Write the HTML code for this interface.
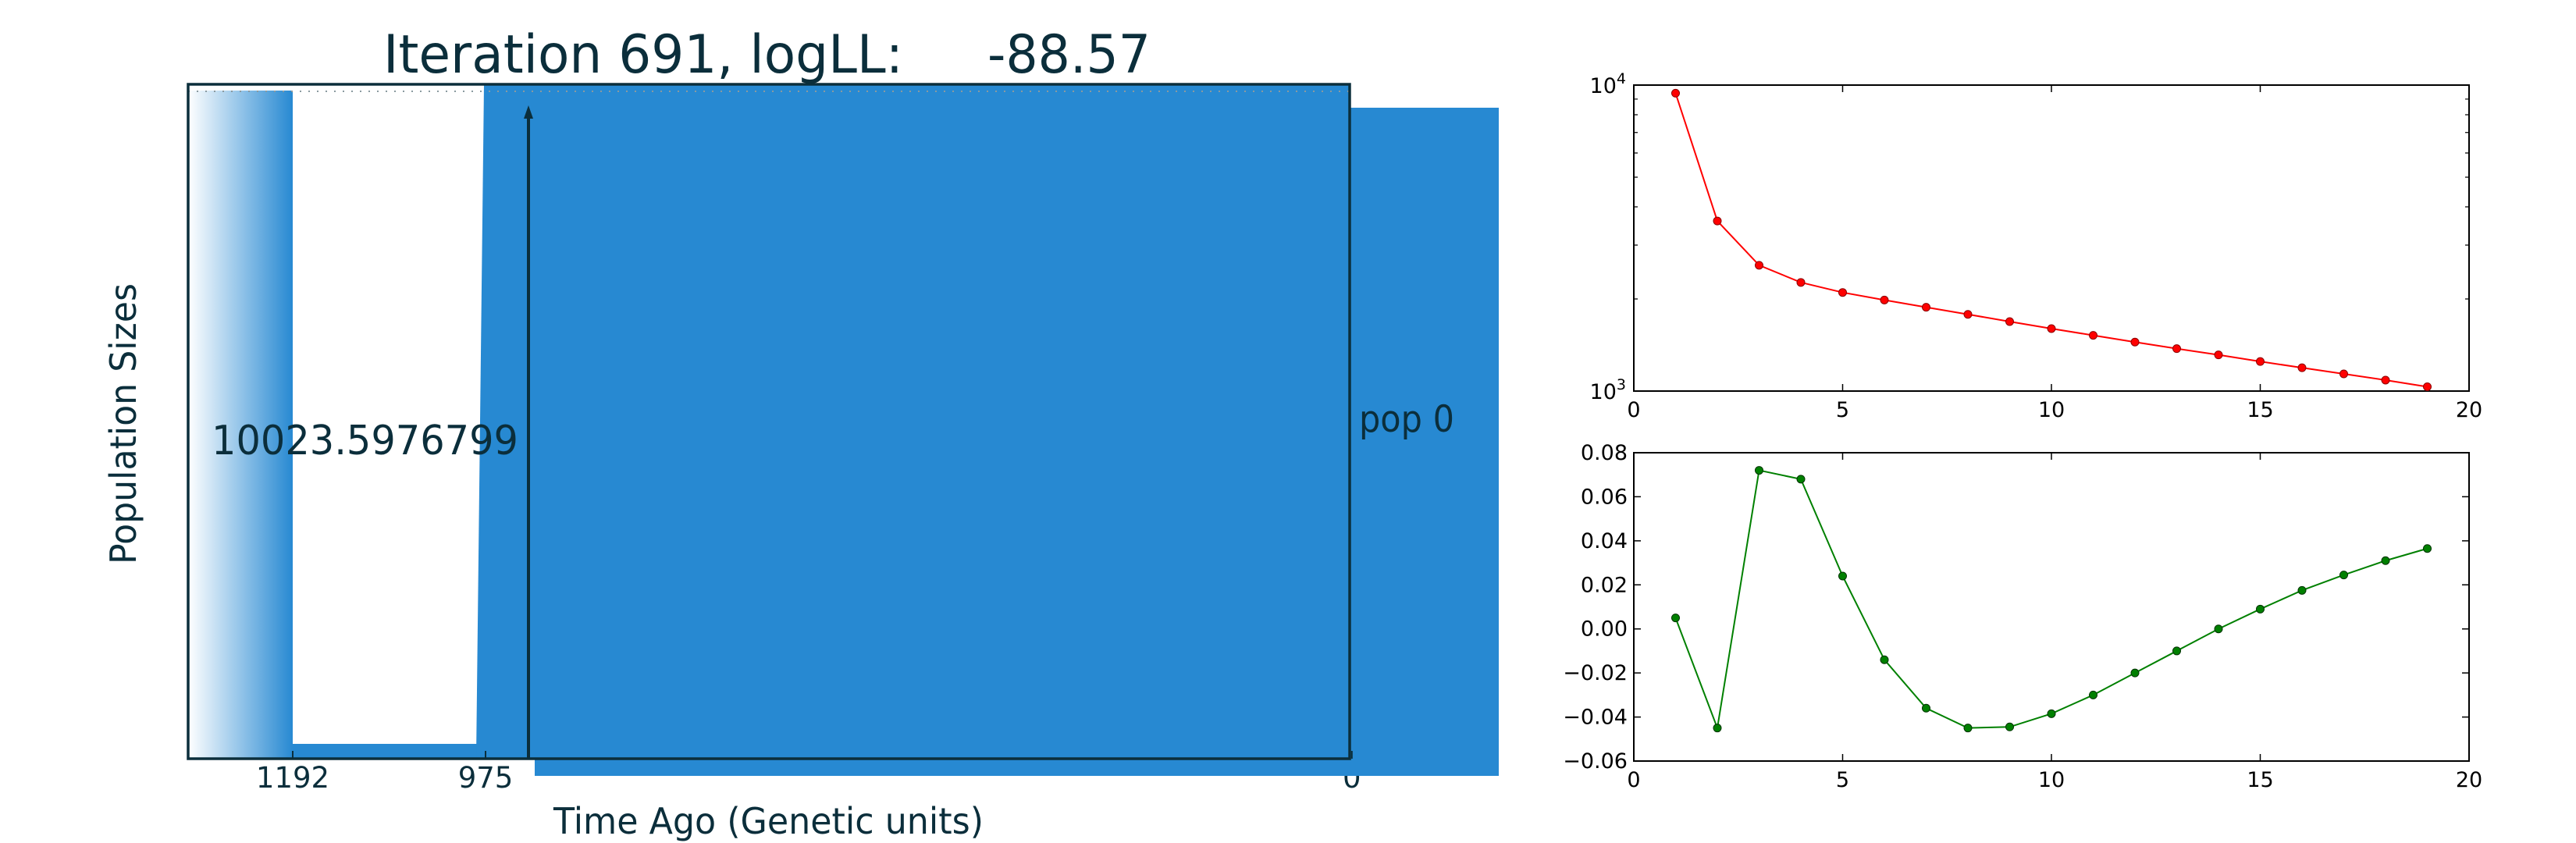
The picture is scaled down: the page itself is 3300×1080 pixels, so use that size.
<!DOCTYPE html>
<html><head><meta charset="utf-8"><style>
html,body{margin:0;padding:0;background:#fff;}
svg{display:block;font-family:"DejaVu Sans","Liberation Sans",sans-serif;}
</style></head><body>
<svg id="fig" width="3300" height="1080" viewBox="0 0 3300 1080" xmlns="http://www.w3.org/2000/svg">
<defs>
<linearGradient id="grad" x1="0" x2="1" y1="0" y2="0"><stop offset="0" stop-color="#ffffff"/><stop offset="1" stop-color="#2789d2"/></linearGradient>
</defs>
<g id="main"></g>
<g id="top"></g>
<g id="bot"></g>
</svg>
<script>
// ---- data ----
const epochTimes = [1192, 975, 0];
const popSizeLabel = "10023.5976799";
const sizeX = [1,2,3,4,5,6,7,8,9,10,11,12,13,14,15,16,17,18,19];
const sizeY = [9408,3597,2577,2265,2100,1984,1879,1781,1687,1600,1521,1446,1376,1313,1249,1192,1138,1086,1033];
const rateX = [1,2,3,4,5,6,7,8,9,10,11,12,13,14,15,16,17,18,19];
const rateY = [0.005,-0.045,0.072,0.068,0.024,-0.014,-0.036,-0.045,-0.0445,-0.0385,-0.030,-0.020,-0.010,0.000,0.009,0.0175,0.0245,0.031,0.0365];
const xTicks = [0,5,10,15,20];
const rateTicks = [-0.06,-0.04,-0.02,0.00,0.02,0.04,0.06,0.08];
const rateTickLabels = ["\u22120.06","\u22120.04","\u22120.02","0.00","0.02","0.04","0.06","0.08"];

const NS="http://www.w3.org/2000/svg";
function mk(parent,tag,attrs,text){const e=document.createElementNS(NS,tag);for(const k in attrs)e.setAttribute(k,attrs[k]);if(text!==undefined)e.textContent=text;parent.appendChild(e);return e;}
const DARK="#0b2e3b", BLUE="#2789d2";

// ---- main panel ----
const M=document.getElementById('main');
const L=241,T=108,R=1729,B=972;
const tx=t=>622+(975-t)*(247/217);
let e;
epochTimes.forEach(t=>{
  e=mk(M,'text',{x:tx(t),y:1009,'font-size':37,fill:DARK,'text-anchor':'middle'},String(t));
  
  
});
e=mk(M,'rect',{x:L,y:116,width:tx(epochTimes[0])-L,height:B-116,fill:'url(#grad)'});


e=mk(M,'rect',{x:tx(epochTimes[0]),y:953,width:tx(epochTimes[1])-tx(epochTimes[0]),height:B-953,fill:BLUE});


e=mk(M,'polygon',{points:`${tx(epochTimes[1])-2},${T} ${R},${T} ${R},${B} ${tx(epochTimes[1])-12},${B}`,fill:BLUE});


e=mk(M,'rect',{x:685,y:138,width:1920-685,height:994-138,fill:BLUE});


e=mk(M,'line',{x1:L,x2:R,y1:117,y2:117,stroke:'#8a9aa0','stroke-width':2,'stroke-dasharray':'2,9'});


e=mk(M,'rect',{x:L,y:T,width:R-L,height:B-T,fill:'none',stroke:DARK,'stroke-width':3.5});


e=mk(M,'line',{x1:677,x2:677,y1:150,y2:B,stroke:DARK,'stroke-width':4});


e=mk(M,'polygon',{points:'677,135 671,152 683,152',fill:DARK});


epochTimes.forEach(t=>{
  e=mk(M,'line',{x1:tx(t),x2:tx(t),y1:B,y2:B-10,stroke:DARK,'stroke-width':2});
  
  
});
e=mk(M,'text',{x:491,y:93,'font-size':68,fill:DARK,textLength:666,lengthAdjust:'spacingAndGlyphs'},'Iteration 691, logLL:');


e=mk(M,'text',{x:1265,y:93,'font-size':68,fill:DARK,textLength:209,lengthAdjust:'spacingAndGlyphs'},'-88.57');


e=mk(M,'text',{x:0,y:0,'font-size':46,fill:DARK,'text-anchor':'middle',transform:'translate(174,543) rotate(-90)',textLength:360,lengthAdjust:'spacingAndGlyphs'},'Population Sizes');


e=mk(M,'text',{x:271,y:582,'font-size':52,fill:DARK,textLength:393,lengthAdjust:'spacingAndGlyphs'},popSizeLabel);


e=mk(M,'text',{x:1741,y:553,'font-size':47,fill:DARK,textLength:122,lengthAdjust:'spacingAndGlyphs'},'pop 0');


e=mk(M,'text',{x:709,y:1068,'font-size':46,fill:DARK,textLength:551,lengthAdjust:'spacingAndGlyphs'},'Time Ago (Genetic units)');



// ---- right charts ----
const PL=2093,PR=3163;
const px=v=>PL+(v/20)*(PR-PL);
function frame(G,t,b){
  e=mk(G,'rect',{x:PL,y:t,width:PR-PL,height:b-t,fill:'none',stroke:'#000','stroke-width':2});
  
  
  xTicks.forEach(v=>{
    e=mk(G,'path',{d:`M${px(v)},${b}v-9M${px(v)},${t}v9`,stroke:'#000','stroke-width':1.5});
    
    
    e=mk(G,'text',{x:px(v),y:b+33,'font-size':27,'text-anchor':'middle',fill:'#000'},String(v));
    
    
  });
}
function series(G,xs,ys,fx,fy,col,edge){
  const d=xs.map((x,i)=>(i?'L':'M')+fx(x)+','+fy(ys[i])).join('');
  e=mk(G,'path',{d:d,fill:'none',stroke:col,'stroke-width':2});
  
  
  xs.forEach((x,i)=>{
    e=mk(G,'circle',{cx:fx(x),cy:fy(ys[i]),r:5,fill:col,stroke:edge,'stroke-width':1});
    
    
  });
}
// top log chart
const TG=document.getElementById('top');
const T1=109,B1=501;
const ly=v=>B1-(Math.log10(v)-3)*(B1-T1);
frame(TG,T1,B1);
for(let m=2;m<=9;m++){
  const y=ly(m*1000);
  e=mk(TG,'path',{d:`M${PL},${y}h5M${PR},${y}h-5`,stroke:'#000','stroke-width':1.2});
  
  
}
[[3,B1],[4,T1]].forEach(([p,y])=>{
  e=mk(TG,'text',{x:PL-10,y:y+10,'font-size':27,'text-anchor':'end',fill:'#000'});
  
  
  mk(e,'tspan',{},'10');
  mk(e,'tspan',{dy:-12,'font-size':19},String(p));
});
series(TG,sizeX,sizeY,px,ly,'#ff0000','#8b0000');
// bottom chart
const BG=document.getElementById('bot');
const T2=580,B2=975;
const ry=v=>B2-((v+0.06)/0.14)*(B2-T2);
frame(BG,T2,B2);
rateTicks.forEach((v,i)=>{
  const y=ry(v);
  e=mk(BG,'path',{d:`M${PL},${y}h9M${PR},${y}h-9`,stroke:'#000','stroke-width':1.5});
  
  
  e=mk(BG,'text',{x:PL-8,y:y+9,'font-size':27,'text-anchor':'end',fill:'#000'},rateTickLabels[i]);
  
  
});
series(BG,rateX,rateY,px,ry,'#008000','#003300');
</script>
</body></html>
